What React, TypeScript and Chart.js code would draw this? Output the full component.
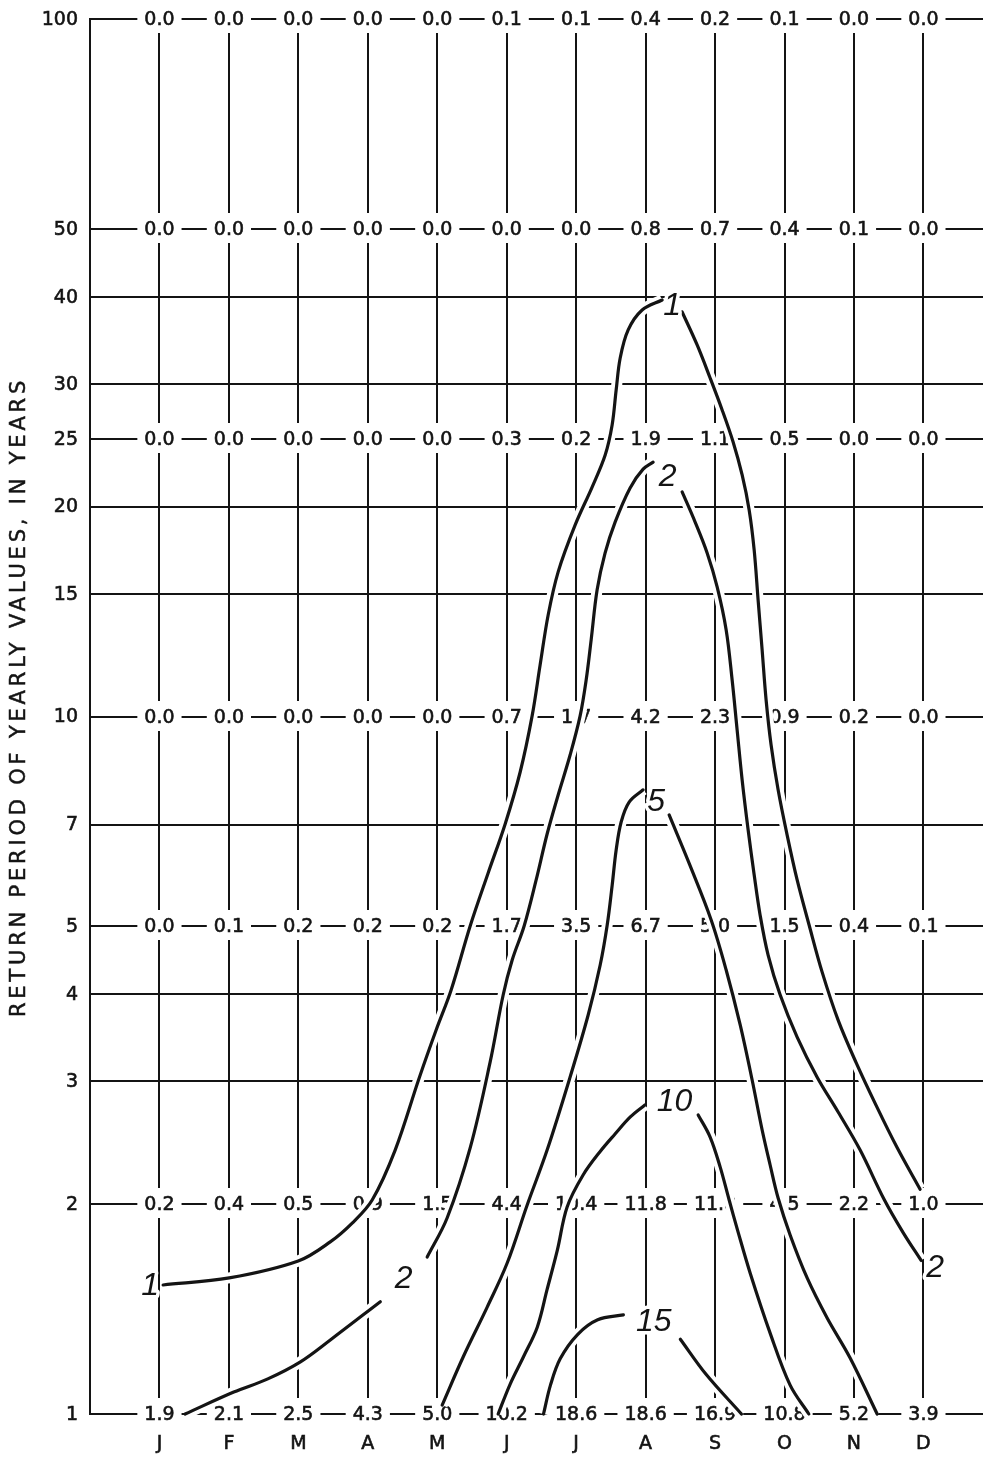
import React, { useEffect, useRef } from "react";
import { Chart, registerables } from "chart.js";

Chart.register(...registerables);

// ---------- axes ----------
const MONTHS = ["J", "F", "M", "A", "M", "J", "J", "A", "S", "O", "N", "D"];
const MONTH_POS = [0, 1, 2, 3, 4, 5, 6, 7, 8, 9, 10, 11];
const Y_TICKS = [1, 2, 3, 4, 5, 7, 10, 15, 20, 25, 30, 40, 50, 100];
const Y_TITLE = "RETURN PERIOD OF YEARLY VALUES, IN YEARS";

// ---------- tabulated values (rows = return period) ----------
const TABLE_ROWS = [100, 50, 25, 10, 5, 2, 1];
const VALUES_100 = [0.0, 0.0, 0.0, 0.0, 0.0, 0.1, 0.1, 0.4, 0.2, 0.1, 0.0, 0.0];
const VALUES_50 = [0.0, 0.0, 0.0, 0.0, 0.0, 0.0, 0.0, 0.8, 0.7, 0.4, 0.1, 0.0];
const VALUES_25 = [0.0, 0.0, 0.0, 0.0, 0.0, 0.3, 0.2, 1.9, 1.1, 0.5, 0.0, 0.0];
const VALUES_10 = [0.0, 0.0, 0.0, 0.0, 0.0, 0.7, 1.7, 4.2, 2.3, 0.9, 0.2, 0.0];
const VALUES_5 = [0.0, 0.1, 0.2, 0.2, 0.2, 1.7, 3.5, 6.7, 5.0, 1.5, 0.4, 0.1];
const VALUES_2 = [0.2, 0.4, 0.5, 0.9, 1.5, 4.4, 10.4, 11.8, 11.8, 4.5, 2.2, 1.0];
const VALUES_1 = [1.9, 2.1, 2.5, 4.3, 5.0, 10.2, 18.6, 18.6, 16.9, 10.8, 5.2, 3.9];
const TABLE_VALUES = [VALUES_100, VALUES_50, VALUES_25, VALUES_10, VALUES_5, VALUES_2, VALUES_1];

// ---------- contour lines (x = month index, 0 = J; y = return period) ----------
const C1_LEFT_X = [0.053, 1.005, 1.998, 2.459, 2.775, 3.063, 3.394, 3.74, 3.984, 4.2, 4.474, 4.733, 4.978, 5.194, 5.366, 5.481, 5.597, 5.741, 5.986, 6.23, 6.418, 6.518, 6.576, 6.634, 6.749, 6.95, 7.238];
const C1_LEFT_Y = [1.531, 1.567, 1.657, 1.765, 1.878, 2.027, 2.39, 3.032, 3.552, 4.054, 5.008, 5.966, 7.015, 8.326, 10.02, 11.85, 13.98, 16.12, 18.82, 21.33, 23.71, 26.18, 29.38, 32.66, 35.83, 38.26, 39.55];
const C1_RIGHT_X = [7.526, 7.742, 7.929, 8.102, 8.26, 8.39, 8.491, 8.563, 8.62, 8.678, 8.735, 8.807, 8.908, 9.038, 9.182, 9.355, 9.542, 9.772, 10.031, 10.319, 10.621, 10.952];
const C1_RIGHT_Y = [38.01, 34.09, 30.57, 27.51, 24.75, 22.2, 19.78, 17.33, 14.69, 12.45, 10.56, 9.1, 7.85, 6.76, 5.83, 5.02, 4.3, 3.67, 3.19, 2.77, 2.41, 2.1];

const C2_LOW_X = [0.37, 1.07, 1.56, 2.03, 2.46, 3.18];
const C2_LOW_Y = [1.0, 1.075, 1.123, 1.188, 1.277, 1.449];
const C2_UP_X = [3.855, 4.142, 4.474, 4.762, 4.949, 5.079, 5.251, 5.424, 5.582, 5.741, 5.913, 6.057, 6.144, 6.216, 6.302, 6.417, 6.561, 6.777, 6.964, 7.108];
const C2_UP_Y = [1.679, 1.91, 2.407, 3.197, 3.988, 4.476, 5.008, 5.83, 6.785, 7.718, 8.806, 10.02, 11.28, 12.88, 15.19, 17.16, 19.0, 21.27, 22.63, 23.16];
const C2_RIGHT_X = [7.526, 7.713, 7.886, 8.03, 8.16, 8.246, 8.318, 8.39, 8.476, 8.563, 8.649, 8.764, 8.937, 9.182, 9.47, 9.772, 10.089, 10.435, 10.708, 10.967];
const C2_RIGHT_Y = [20.99, 19.0, 17.16, 15.34, 13.31, 11.28, 9.56, 8.11, 6.88, 5.93, 5.19, 4.55, 3.99, 3.47, 3.04, 2.71, 2.39, 2.03, 1.82, 1.66];

const C5_LEFT_X = [4.071, 4.373, 4.719, 5.007, 5.295, 5.582, 5.913, 6.173, 6.346, 6.447, 6.519, 6.576, 6.648, 6.763, 6.964];
const C5_LEFT_Y = [1.03, 1.207, 1.423, 1.646, 1.994, 2.39, 3.042, 3.733, 4.403, 5.024, 5.734, 6.437, 7.06, 7.54, 7.85];
const C5_RIGHT_X = [7.339, 7.642, 7.944, 8.16, 8.362, 8.534, 8.678, 8.793, 8.908, 9.081, 9.326, 9.614, 9.945, 10.334];
const C5_RIGHT_Y = [7.225, 6.106, 5.108, 4.331, 3.612, 3.012, 2.554, 2.275, 2.04, 1.806, 1.567, 1.373, 1.203, 1.0];

const C10_LEFT_X = [4.877, 5.05, 5.24, 5.44, 5.58, 5.73, 5.87, 6.1, 6.34, 6.56, 6.78, 6.99];
const C10_LEFT_Y = [1.0, 1.104, 1.207, 1.332, 1.506, 1.719, 1.981, 2.201, 2.375, 2.52, 2.666, 2.773];
const C10_RIGHT_X = [7.757, 7.929, 8.073, 8.203, 8.332, 8.505, 8.793, 9.081, 9.35];
const C10_RIGHT_Y = [2.684, 2.495, 2.261, 2.027, 1.823, 1.593, 1.306, 1.1, 1.0];

const C15_LEFT_X = [5.53, 5.63, 5.77, 6.02, 6.31, 6.68];
const C15_LEFT_Y = [1.0, 1.1, 1.2, 1.3, 1.365, 1.387];
const C15_RIGHT_X = [7.5, 7.87, 8.38];
const C15_RIGHT_Y = [1.28, 1.14, 1.0];

const SEGMENTS = [
  [C1_LEFT_X, C1_LEFT_Y],
  [C1_RIGHT_X, C1_RIGHT_Y],
  [C2_LOW_X, C2_LOW_Y],
  [C2_UP_X, C2_UP_Y],
  [C2_RIGHT_X, C2_RIGHT_Y],
  [C5_LEFT_X, C5_LEFT_Y],
  [C5_RIGHT_X, C5_RIGHT_Y],
  [C10_LEFT_X, C10_LEFT_Y],
  [C10_RIGHT_X, C10_RIGHT_Y],
  [C15_LEFT_X, C15_LEFT_Y],
  [C15_RIGHT_X, C15_RIGHT_Y],
];

const INK = "#141414";
const TEXT_FONT = "19px 'DejaVu Sans'";
const LABEL_FONT = "italic 32px 'Liberation Sans'";

const toPoints = (xs: number[], ys: number[]) => xs.map((x, i) => ({ x, y: ys[i] }));
const first = (xs: number[], ys: number[]) => ({ x: xs[0], y: ys[0] });
const last = (xs: number[], ys: number[]) => ({ x: xs[xs.length - 1], y: ys[ys.length - 1] });

const inkText = (ctx: CanvasRenderingContext2D, t: string, x: number, y: number) => {
  ctx.fillText(t, x, y);
  ctx.strokeText(t, x, y);
};

const paperPlugin = {
  id: "paperPlugin",
  beforeDraw(chart: any) {
    const ctx = chart.ctx;
    ctx.save();
    ctx.fillStyle = "#ffffff";
    ctx.fillRect(0, 0, chart.width, chart.height);
    ctx.restore();
  },
  beforeDatasetsDraw(chart: any) {
    const ctx = chart.ctx;
    const xs = chart.scales.x;
    const ys = chart.scales.y;
    const { left, right, top, bottom } = chart.chartArea;
    ctx.save();
    ctx.strokeStyle = INK;
    ctx.lineWidth = 2;
    ctx.lineCap = "butt";
    // horizontal grid
    Y_TICKS.forEach((v) => {
      const y = Math.round(ys.getPixelForValue(v));
      ctx.beginPath();
      ctx.moveTo(left - 1, y);
      ctx.lineTo(right, y);
      ctx.stroke();
    });
    // vertical month lines
    MONTH_POS.forEach((m) => {
      const x = Math.round(xs.getPixelForValue(m));
      ctx.beginPath();
      ctx.moveTo(x, top);
      ctx.lineTo(x, bottom);
      ctx.stroke();
    });
    // left border
    ctx.beginPath();
    ctx.moveTo(Math.round(left), Math.round(top) - 1);
    ctx.lineTo(Math.round(left), Math.round(bottom) + 1);
    ctx.stroke();

    // tabulated values
    ctx.font = TEXT_FONT;
    ctx.textAlign = "center";
    ctx.textBaseline = "middle";
    ctx.lineWidth = 0.6;
    TABLE_ROWS.forEach((rp, r) => {
      const y = Math.round(ys.getPixelForValue(rp));
      TABLE_VALUES[r].forEach((v, i) => {
        const x = xs.getPixelForValue(MONTH_POS[i]);
        const t = v.toFixed(1);
        const w = ctx.measureText(t).width;
        ctx.fillStyle = "#ffffff";
        ctx.fillRect(x - w / 2 - 7, y - 16, w + 14, 30);
        ctx.fillStyle = INK;
        inkText(ctx, t, x, y + 1);
      });
    });

    // y tick labels
    ctx.textAlign = "right";
    Y_TICKS.forEach((v) => {
      const y = ys.getPixelForValue(v);
      inkText(ctx, String(v), left - 12, y + 1);
    });

    // month labels
    ctx.textAlign = "center";
    MONTH_POS.forEach((m, i) => {
      inkText(ctx, MONTHS[i], xs.getPixelForValue(m), bottom + 30);
    });

    // y-axis title
    ctx.save();
    ctx.translate(20, 697);
    ctx.rotate(-Math.PI / 2);
    ctx.font = "21px 'DejaVu Sans'";
    (ctx as any).letterSpacing = "3.8px";
    ctx.textAlign = "center";
    ctx.lineWidth = 0.5;
    inkText(ctx, Y_TITLE, 0, 0);
    (ctx as any).letterSpacing = "0px";
    ctx.restore();
    ctx.restore();
  },
  afterDatasetsDraw(chart: any) {
    const ctx = chart.ctx;
    const xs = chart.scales.x;
    const ys = chart.scales.y;
    const P = (p: { x: number; y: number }) => ({ x: xs.getPixelForValue(p.x), y: ys.getPixelForValue(p.y) });
    const mid = (a: any, b: any, dx = 0, dy = 0) => {
      const pa = P(a);
      const pb = P(b);
      return { x: (pa.x + pb.x) / 2 + dx, y: (pa.y + pb.y) / 2 + dy };
    };
    const c1s = P(first(C1_LEFT_X, C1_LEFT_Y));
    const c2e = P(last(C2_RIGHT_X, C2_RIGHT_Y));
    const labels = [
      { t: "1", p: { x: c1s.x - 13, y: c1s.y + 1 } },
      { t: "1", p: mid(last(C1_LEFT_X, C1_LEFT_Y), first(C1_RIGHT_X, C1_RIGHT_Y)) },
      { t: "2", p: mid(last(C2_LOW_X, C2_LOW_Y), first(C2_UP_X, C2_UP_Y)) },
      { t: "2", p: mid(last(C2_UP_X, C2_UP_Y), first(C2_RIGHT_X, C2_RIGHT_Y)) },
      { t: "2", p: { x: c2e.x + 14, y: c2e.y + 8 } },
      { t: "5", p: mid(last(C5_LEFT_X, C5_LEFT_Y), first(C5_RIGHT_X, C5_RIGHT_Y)) },
      { t: "10", p: mid(last(C10_LEFT_X, C10_LEFT_Y), first(C10_RIGHT_X, C10_RIGHT_Y), 3, -8) },
      { t: "15", p: mid(last(C15_LEFT_X, C15_LEFT_Y), first(C15_RIGHT_X, C15_RIGHT_Y), 2, -5) },
    ];
    ctx.save();
    ctx.font = LABEL_FONT;
    ctx.textAlign = "center";
    ctx.textBaseline = "middle";
    ctx.lineJoin = "round";
    labels.forEach((l) => {
      ctx.strokeStyle = "#ffffff";
      ctx.lineWidth = 7;
      ctx.strokeText(l.t, l.p.x, l.p.y);
      ctx.fillStyle = INK;
      ctx.fillText(l.t, l.p.x, l.p.y);
    });
    ctx.restore();
  },
};

export default function App() {
  const canvasRef = useRef<HTMLCanvasElement | null>(null);

  useEffect(() => {
    document.body.style.margin = "0";
    const canvas = canvasRef.current;
    if (!canvas) return;

    const common = {
      pointRadius: 0,
      tension: 0.35,
      clip: false as any,
    };
    const halo = SEGMENTS.map(([xs, ys]) => ({
      ...common,
      data: toPoints(xs, ys),
      borderColor: "#ffffff",
      borderWidth: 11,
      borderCapStyle: "butt" as const,
      order: 2,
    }));
    const ink = SEGMENTS.map(([xs, ys]) => ({
      ...common,
      data: toPoints(xs, ys),
      borderColor: INK,
      borderWidth: 3.2,
      borderCapStyle: "round" as const,
      borderJoinStyle: "round" as const,
      order: 1,
    }));

    const chart = new Chart(canvas, {
      type: "line",
      data: { datasets: [...halo, ...ink] as any },
      options: {
        animation: false,
        responsive: false,
        events: [],
        layout: { padding: { left: 90, right: 0, top: 19, bottom: 43 } },
        plugins: { legend: { display: false }, tooltip: { enabled: false } },
        scales: {
          x: { type: "linear", min: -1, max: 11.858, display: false },
          y: { type: "logarithmic", min: 1, max: 100, display: false },
        },
      },
      plugins: [paperPlugin],
    });
    return () => chart.destroy();
  }, []);

  return (
    <div style={{ width: 983, height: 1457, background: "#fff" }}>
      <canvas ref={canvasRef} width={983} height={1457} style={{ display: "block" }} />
    </div>
  );
}
